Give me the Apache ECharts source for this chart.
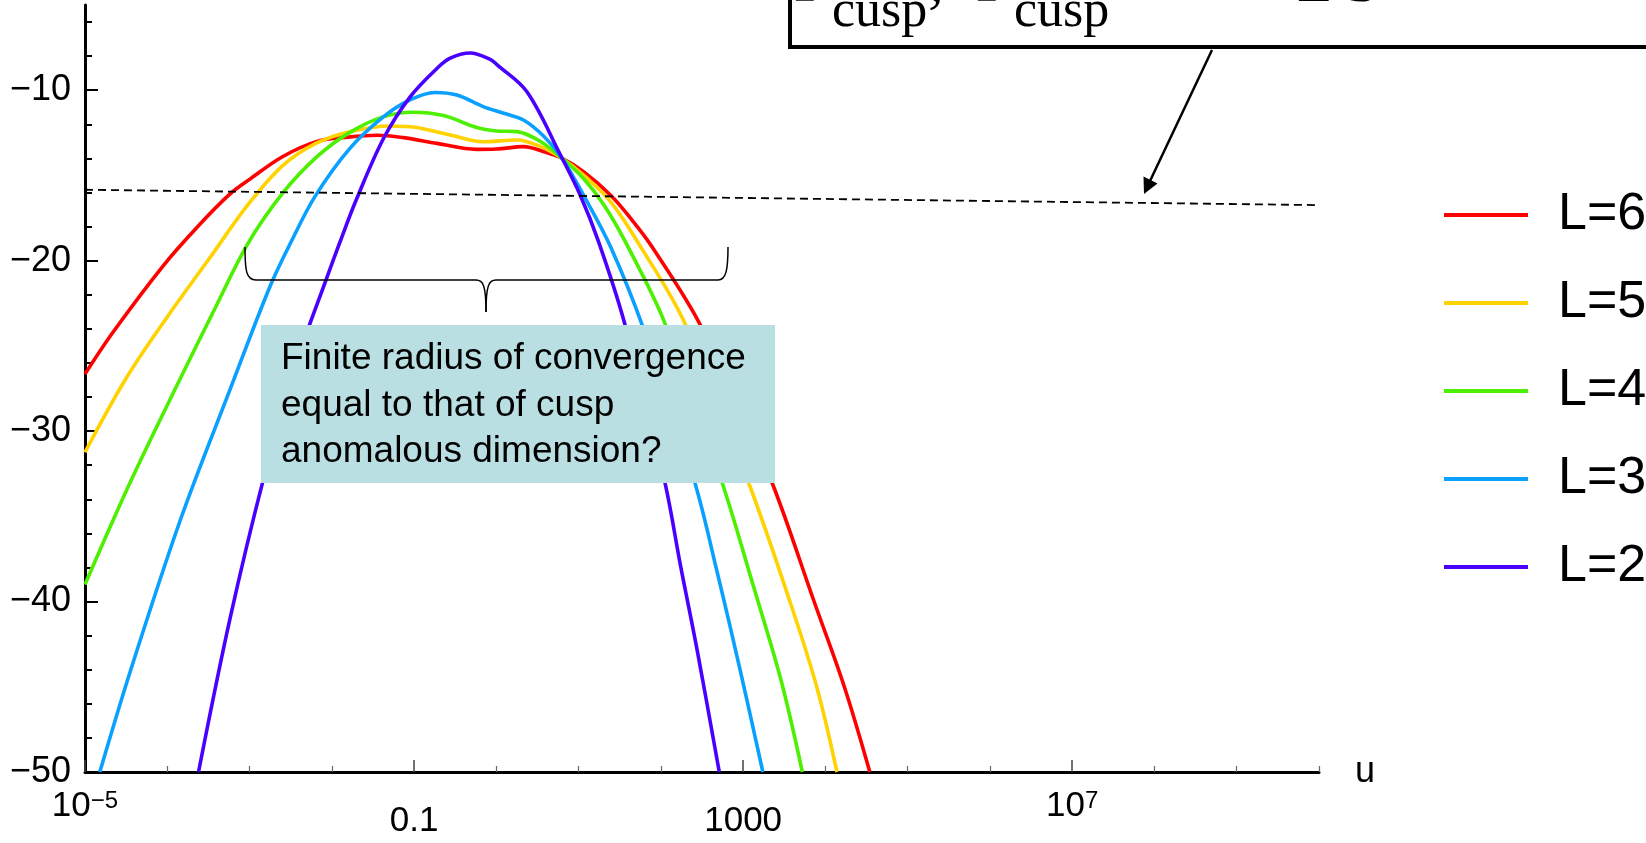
<!DOCTYPE html>
<html>
<head>
<meta charset="utf-8">
<script src="https://cdn.jsdelivr.net/npm/echarts@6/dist/echarts.min.js"></script>
<style>
  html, body { margin: 0; padding: 0; background: #fff; }
  #main { width: 1646px; height: 843px; }
</style>
</head>
<body>
<div id="main"></div>
<script>
// curve readings: exponent of u (log10 u) and value, one pair of arrays per loop order
var expL6 = [-5, -4.66, -4.05, -3.64, -3.24, -2.99, -2.6, -2.18, -1.8, -1.45, -1.13, -0.72, -0.24, 0.0, 0.33, 0.58, 0.8, 1.06, 1.39, 1.63, 1.88, 2.45, 2.94, 3.35, 3.87, 4.23, 4.54];
var valL6 = [-26.65, -24.2, -20.3, -18.05, -16.1, -15.2, -13.9, -13.0, -12.75, -12.64, -12.78, -13.12, -13.47, -13.45, -13.31, -13.61, -14.0, -14.78, -16.16, -17.5, -19.1, -23.5, -28.6, -33.0, -40.1, -45.0, -50];

var expL5 = [-5, -4.5, -4.0, -3.5, -3.0, -2.59, -2.2, -1.78, -1.29, -0.97, -0.56, -0.16, 0.25, 0.54, 0.8, 1.06, 1.39, 1.73, 2.28, 3.05, 3.58, 3.9, 4.14];
var valL5 = [-31.24, -26.9, -23.3, -19.95, -16.6, -14.39, -13.13, -12.43, -12.1, -12.19, -12.63, -13.02, -12.92, -13.31, -14.0, -14.98, -16.55, -19.0, -23.56, -32.81, -40.16, -45.1, -50];

var expL4 = [-5, -4.45, -3.84, -3.44, -3.02, -2.59, -2.18, -1.79, -1.37, -1.01, -0.64, -0.24, 0.0, 0.25, 0.54, 0.8, 1.06, 1.31, 1.58, 2.04, 2.73, 3.13, 3.46, 3.72];
var valL4 = [-39.0, -33.0, -26.9, -23.0, -19.0, -16.0, -13.9, -12.5, -11.55, -11.29, -11.49, -12.19, -12.39, -12.43, -13.02, -14.0, -15.18, -16.75, -19.0, -23.56, -32.81, -39.18, -44.6, -50];

var expL3 = [-4.82, -4.45, -3.84, -3.24, -2.75, -2.49, -2.2, -1.78, -1.37, -1.05, -0.75, -0.48, -0.16, 0.09, 0.33, 0.58, 0.8, 1.06, 1.39, 1.79, 2.4, 2.68, 2.97, 3.24];
var valL3 = [-50, -44.1, -35.2, -27.6, -21.5, -18.85, -16.2, -13.41, -11.55, -10.57, -10.13, -10.28, -10.96, -11.35, -11.75, -12.72, -14.0, -16.16, -19.2, -24.0, -32.81, -38.18, -44.15, -50];

var expL2 = [-3.62, -3.24, -2.83, -2.43, -2.06, -1.9, -1.7, -1.37, -1.05, -0.72, -0.56, -0.32, -0.07, 0.01, 0.37, 0.78, 1.02, 1.24, 1.55, 2.04, 2.24, 2.44, 2.71];
var valL2 = [-50, -41.06, -32.8, -26.0, -21.0, -18.9, -16.4, -12.82, -10.4, -8.71, -8.12, -7.82, -8.2, -8.51, -10.08, -13.81, -16.16, -18.85, -23.51, -32.82, -37.92, -42.82, -50];

// dashed reference line (ends)
var dashExp = [-5, 10];
var dashVal = [-15.84, -16.74];

var seriesNames = ['L=6', 'L=5', 'L=4', 'L=3', 'L=2'];
var seriesColors = ['#ff0000', '#ffd200', '#4cf000', '#0aa0ff', '#4a00ff'];

// axis ticks and labels
var xMajorExp = [-5, -1, 3, 7];
var xPlainExp = [-1, 3];
var xPlainText = ['0.1', '1000'];
var xPowExp = [-5, 7];
var xPowText = ['{b|10}{s|\u22125}', '{b|10}{s|7}'];
var xMinorExp = [-4, -3, -2, 0, 1, 2, 4, 5, 6, 8, 9, 10];
var yMajor = [-50, -40, -30, -20, -10];
var yMinor = [-48, -46, -44, -42, -38, -36, -34, -32, -28, -26, -24, -22, -18, -16, -14, -12, -8, -6];

var noteLines = ['Finite radius of convergence', 'equal to that of cusp', 'anomalous dimension?'];

function toPairs(exps, vals) {
  return exps.map(function (e, i) { return [Math.pow(10, e), vals[i]]; });
}
function pow10(list) {
  return list.map(function (e) { return Math.pow(10, e); });
}
function expOf(v) {
  return Math.round(Math.log(v) / Math.LN10);
}

var chart = echarts.init(document.getElementById('main'));
var expLists = [expL6, expL5, expL4, expL3, expL2];
var valLists = [valL6, valL5, valL4, valL3, valL2];

var series = seriesNames.map(function (name, i) {
  return {
    name: name,
    type: 'line',
    xAxisIndex: 0,
    yAxisIndex: 0,
    data: toPairs(expLists[i], valLists[i]),
    smooth: 0.35,
    symbol: 'none',
    clip: true,
    lineStyle: { color: seriesColors[i], width: 3.6 },
    itemStyle: { color: seriesColors[i] },
    z: 2
  };
});
series.push({
  name: 'ref',
  type: 'line',
  data: toPairs(dashExp, dashVal),
  symbol: 'none',
  lineStyle: { color: '#000', width: 1.8, type: [8, 5] },
  z: 3
});

var font = 'Liberation Sans';
var braceStyle = { stroke: '#000', lineWidth: 1.5, fill: 'none' };

function logAxis(extra) {
  var a = {
    type: 'log',
    logBase: 10,
    min: 1e-5,
    max: 1e10,
    position: 'bottom',
    axisLine: { show: false, onZero: false },
    axisTick: { show: false },
    axisLabel: { show: false },
    splitLine: { show: false }
  };
  for (var k in extra) a[k] = extra[k];
  return a;
}

var option = {
  animation: false,
  backgroundColor: '#fff',
  grid: { left: 85, right: 327, top: 5, bottom: 71, containLabel: false, outerBoundsMode: 'none' },
  legend: {
    data: seriesNames,
    orient: 'vertical',
    left: 1439,
    top: 184,
    icon: 'rect',
    itemWidth: 84,
    itemHeight: 4,
    itemGap: 36,
    textStyle: { fontSize: 52, fontFamily: font, color: '#000', lineHeight: 52, padding: [0, 0, 0, 25] }
  },
  xAxis: [
    logAxis({
      name: 'u',
      nameLocation: 'end',
      nameGap: 36,
      nameTextStyle: { fontSize: 36, fontFamily: font, color: '#000' },
      axisLine: { show: true, onZero: false, lineStyle: { color: '#000', width: 3 } },
      axisTick: { show: true, inside: true, length: 12, customValues: pow10(xMajorExp), lineStyle: { color: '#444', width: 1.5 } },
      axisLabel: {
        show: true,
        customValues: pow10(xPlainExp),
        margin: 32,
        hideOverlap: false,
        fontSize: 35,
        lineHeight: 35,
        color: '#000',
        fontFamily: font,
        formatter: function (v) {
          var k = xPlainExp.indexOf(expOf(v));
          return k >= 0 ? xPlainText[k] : '';
        }
      }
    }),
    logAxis({
      axisTick: { show: true, inside: true, length: 6, customValues: pow10(xMinorExp), lineStyle: { color: '#666', width: 1.2 } }
    }),
    logAxis({
      axisLabel: {
        show: true,
        customValues: pow10(xPowExp),
        margin: 17,
        hideOverlap: false,
        fontSize: 35,
        color: '#000',
        fontFamily: font,
        formatter: function (v) {
          var k = xPowExp.indexOf(expOf(v));
          return k >= 0 ? xPowText[k] : '';
        },
        rich: {
          b: { fontSize: 35, lineHeight: 35, fontFamily: font, color: '#000' },
          s: { fontSize: 24, lineHeight: 16, verticalAlign: 'top', fontFamily: font, color: '#000' }
        }
      }
    })
  ],
  yAxis: [{
    type: 'value',
    min: -50,
    max: -5,
    position: 'left',
    axisLine: { onZero: false, lineStyle: { color: '#000', width: 3 } },
    axisTick: { inside: true, length: 13, customValues: yMajor, lineStyle: { color: '#000', width: 2 } },
    axisLabel: {
      customValues: yMajor,
      margin: 14,
      fontSize: 36,
      fontFamily: font,
      color: '#000',
      formatter: function (v) { return String(v).replace('-', '\u2212'); }
    },
    splitLine: { show: false }
  }, {
    type: 'value',
    min: -50,
    max: -5,
    position: 'left',
    axisLine: { show: false, onZero: false },
    axisTick: { inside: true, length: 7, customValues: yMinor, lineStyle: { color: '#000', width: 2 } },
    axisLabel: { show: false },
    splitLine: { show: false }
  }],
  series: series,
  graphic: [
    // formula box at the top, mostly cut off
    { type: 'rect', z: 100, shape: { x: 790, y: -40, width: 950, height: 87 },
      style: { fill: '#fff', stroke: '#000', lineWidth: 4 } },
    { type: 'text', z: 101, x: 794, y: -16, style: { text: '\u0393', font: '64px "Liberation Serif"', fill: '#000', verticalAlign: 'middle' } },
    { type: 'text', z: 101, x: 832, y: 12, style: { text: 'cusp', font: '52px "Liberation Serif"', fill: '#000', verticalAlign: 'middle' } },
    { type: 'text', z: 101, x: 928, y: -16, style: { text: ',  \u0393', font: '64px "Liberation Serif"', fill: '#000', verticalAlign: 'middle' } },
    { type: 'text', z: 101, x: 1014, y: 12, style: { text: 'cusp', font: '52px "Liberation Serif"', fill: '#000', verticalAlign: 'middle' } },
    { type: 'text', z: 101, x: 1296, y: -16, style: { text: '\u2265 3', font: '64px "Liberation Serif"', fill: '#000', verticalAlign: 'middle' } },
    // arrow to the dashed line
    { type: 'line', z: 101, shape: { x1: 1212, y1: 50, x2: 1150, y2: 181 }, style: { stroke: '#000', lineWidth: 2.5 } },
    { type: 'polygon', z: 101, shape: { points: [[1144, 194], [1143.5, 176.5], [1157.5, 183.5]] }, style: { fill: '#000' } },
    // brace
    { type: 'bezierCurve', z: 101, shape: { x1: 245, y1: 247, cpx1: 245, cpy1: 270, cpx2: 246, cpy2: 280, x2: 256, y2: 280 }, style: braceStyle },
    { type: 'line', z: 101, shape: { x1: 256, y1: 280, x2: 476, y2: 280 }, style: braceStyle },
    { type: 'bezierCurve', z: 101, shape: { x1: 476, y1: 280, cpx1: 483, cpy1: 280, cpx2: 486, cpy2: 285, x2: 486, y2: 312 }, style: braceStyle },
    { type: 'bezierCurve', z: 101, shape: { x1: 486, y1: 312, cpx1: 486, cpy1: 285, cpx2: 489, cpy2: 280, x2: 496, y2: 280 }, style: braceStyle },
    { type: 'line', z: 101, shape: { x1: 496, y1: 280, x2: 718, y2: 280 }, style: braceStyle },
    { type: 'bezierCurve', z: 101, shape: { x1: 718, y1: 280, cpx1: 726, cpy1: 280, cpx2: 728, cpy2: 270, x2: 728, y2: 247 }, style: braceStyle },
    // note box
    { type: 'rect', z: 100, shape: { x: 261, y: 325, width: 514, height: 158 }, style: { fill: '#badfe3' } },
    { type: 'text', z: 101, x: 281, y: 336,
      style: { text: noteLines.join('\n'), font: '37px "Liberation Sans"', lineHeight: 46.5, fill: '#000', verticalAlign: 'top' } }
  ]
};

chart.setOption(option);
</script>
</body>
</html>
